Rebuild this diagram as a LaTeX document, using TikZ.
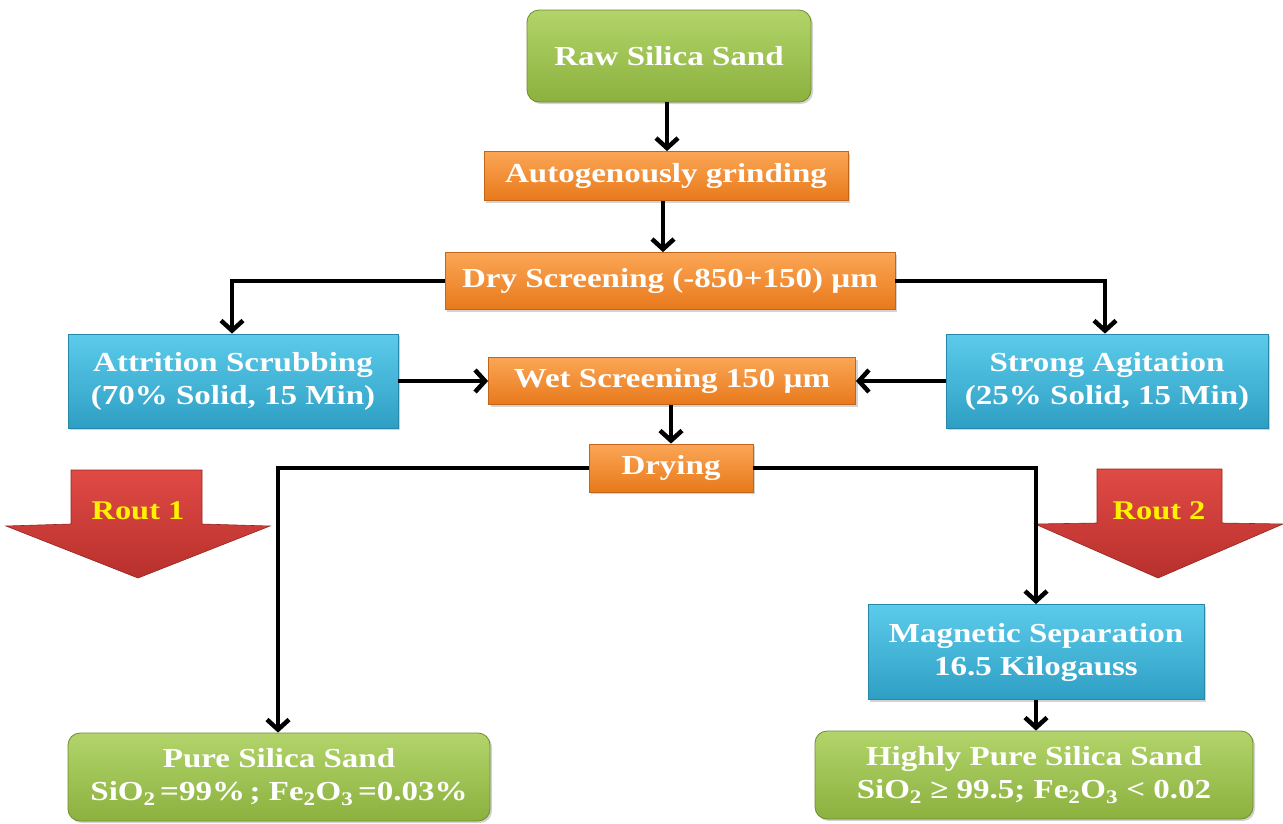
\documentclass[tikz,border=0pt]{standalone}
\usepackage{fontspec}
\setmainfont{Liberation Serif}[FakeStretch=1.2]
\usetikzlibrary{arrows.meta,shadows}

\definecolor{grnT}{HTML}{B2D46A}
\definecolor{grnB}{HTML}{8CB13E}
\definecolor{grnD}{HTML}{6E8C30}
\definecolor{orgT}{HTML}{FBA655}
\definecolor{orgB}{HTML}{E8791B}
\definecolor{orgD}{HTML}{C0651A}
\definecolor{bluT}{HTML}{5CCBEB}
\definecolor{bluB}{HTML}{2E9FC4}
\definecolor{bluD}{HTML}{2687A8}
\definecolor{redT}{HTML}{E04A45}
\definecolor{redB}{HTML}{B8302C}

\tikzset{
  box/.style={rectangle, align=center, text=white,
    font=\fontsize{27.5}{33}\selectfont\bfseries, inner sep=0pt,
    drop shadow={opacity=0.35, shadow xshift=2pt, shadow yshift=-2pt}},
  greenbox/.style={box, rounded corners=12pt, draw=grnD, line width=0.8pt,
    top color=grnT, bottom color=grnB},
  orangebox/.style={box, draw=orgD, line width=0.8pt,
    top color=orgT, bottom color=orgB},
  bluebox/.style={box, draw=bluD, line width=0.8pt,
    top color=bluT, bottom color=bluB},
  flow/.style={line width=4pt, black,
    -{Straight Barb[length=10pt,width=22pt,line width=4.5pt]}},
  routarrow/.style={top color=redT, bottom color=redB, draw=redB!80!black,
    line width=0.6pt},
  routtext/.style={text=yellow, font=\fontsize{27}{30}\selectfont\bfseries}
}

\begin{document}
\begin{tikzpicture}[x=1pt, y=-1pt]
\useasboundingbox (0,0) rectangle (1283,823);

% process boxes
\node[greenbox, minimum width=284pt, minimum height=92pt] (raw) at (669,56) {Raw Silica Sand};
\node[orangebox, minimum width=364pt, minimum height=49pt] (grind) at (666,176) {Autogenously grinding};
\node[orangebox, minimum width=450pt, minimum height=57pt] (dry) at (670,281) {Dry Screening (-850+150) µm};
\node[bluebox, minimum width=330pt, minimum height=94pt] (attr) at (233,381) {Attrition Scrubbing\\(70\% Solid, 15 Min)};
\node[orangebox, minimum width=367pt, minimum height=47pt] (wet) at (672,381) {Wet Screening 150 µm};
\node[bluebox, minimum width=322pt, minimum height=94pt] (agit) at (1107,381) {Strong Agitation\\(25\% Solid, 15 Min)};
\node[orangebox, minimum width=164pt, minimum height=48pt] (drying) at (671,468) {Drying};
\node[bluebox, minimum width=336pt, minimum height=95pt] (mag) at (1036,652) {Magnetic Separation\\16.5 Kilogauss};
\node[greenbox, minimum width=422pt, minimum height=88pt] (pure) at (279,777)
  {Pure Silica Sand\\SiO\textsubscript{2}\,=99\%\,; Fe\textsubscript{2}O\textsubscript{3}\,=0.03\%};
\node[greenbox, minimum width=438pt, minimum height=88pt] (hpure) at (1034,775)
  {Highly Pure Silica Sand\\SiO\textsubscript{2} ≥ 99.5; Fe\textsubscript{2}O\textsubscript{3} < 0.02};

% route markers
\path[routarrow] (71,470) -- (202,470) -- (202,524) -- (270,526) -- (138,578)
  -- (6,526) -- (71,524) -- cycle;
\node[routtext] (r1) at (138,511) {Rout 1};
\path[routarrow] (1097,469) -- (1222,469) -- (1222,523) -- (1283,524) -- (1158,578)
  -- (1035,524) -- (1097,523) -- cycle;
\node[routtext] (r2) at (1159,511) {Rout 2};

% connectors
\draw[flow] (raw.south -| 667,0) -- (grind.north -| 667,0);
\draw[flow] (grind.south -| 663,0) -- (dry.north -| 663,0);
\draw[flow] (dry.west) -| (attr.north -| 232,0);
\draw[flow] (dry.east) -| (agit.north -| 1105,0);
\draw[flow] (attr.east) -- (wet.west);
\draw[flow] (agit.west) -- (wet.east);
\draw[flow] (wet.south -| 671,0) -- (drying.north);
\draw[flow] (drying.west) -| (pure.north -| 278,0);
\draw[flow] (drying.east) -| (mag.north);
\draw[flow] (mag.south) -- (hpure.north -| mag.south);
\end{tikzpicture}
\end{document}
